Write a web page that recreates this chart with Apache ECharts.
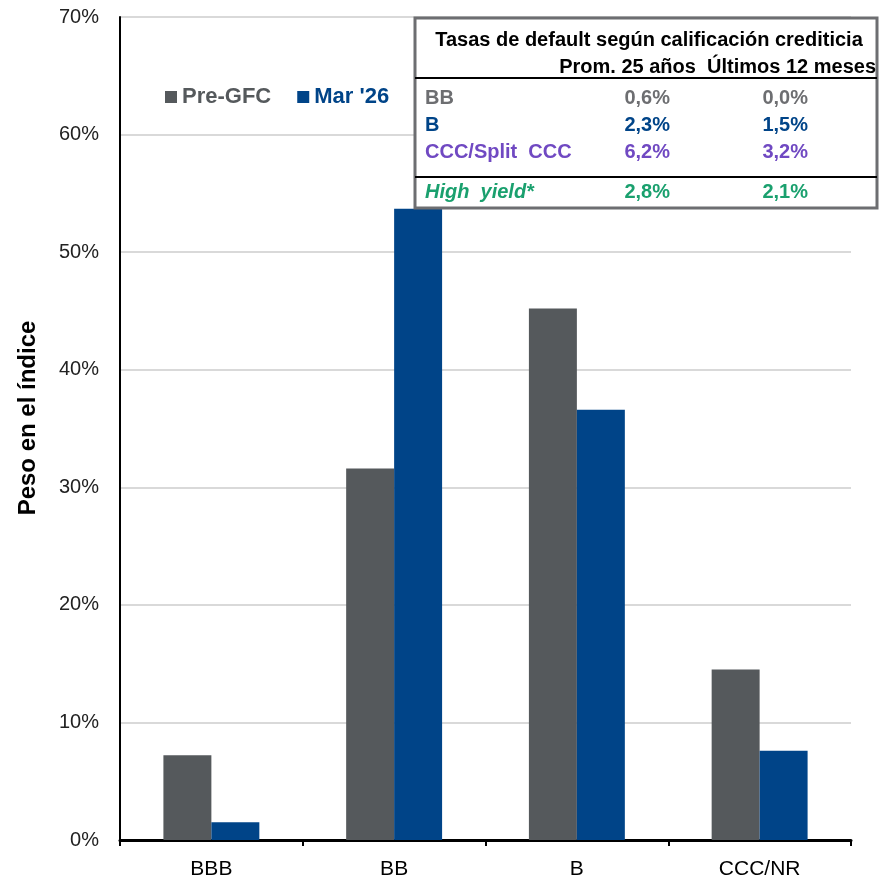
<!DOCTYPE html>
<html>
<head>
<meta charset="utf-8">
<script src="https://cdn.jsdelivr.net/npm/echarts@6/dist/echarts.min.js"></script>
<style>
  html, body { margin: 0; padding: 0; background: #fff; }
  #chart { width: 879px; height: 883px; }
</style>
</head>
<body>
<div id="chart"></div>
<script>
// Index weight by rating bucket
const categories = ['BBB', 'BB', 'B', 'CCC/NR'];
const preGfc = [7.2, 31.6, 45.2, 14.5];
const mar26 = [1.5, 53.7, 36.6, 7.6];
const yTicks = [0, 10, 20, 30, 40, 50, 60, 70];
const yAxisTitle = 'Peso en el índice';

// Default-rate table by rating
const tableTitle = 'Tasas de default según calificación crediticia';
const tableHeader = 'Prom. 25 años  Últimos 12 meses';
const rowLabels = ['BB', 'B', 'CCC/Split  CCC', 'High  yield*'];
const avg25y = ['0,6%', '2,3%', '6,2%', '2,8%'];
const last12m = ['0,0%', '1,5%', '3,2%', '2,1%'];

const FONT = '"Liberation Sans", Arial, sans-serif';
const GRAY = '#55595c';
const BLUE = '#004488';
const PURPLE = '#7049c2';
const GREEN = '#1aa06e';
const rowColors = ['#6d6e71', BLUE, PURPLE, GREEN];
const rowY = [98, 125, 152, 192];

const chart = echarts.init(document.getElementById('chart'));

const graphics = [
  // rotated y-axis title
  { type: 'text', x: 28, y: 418, rotation: Math.PI / 2,
    style: { text: yAxisTitle, fill: '#000', font: 'bold 24px ' + FONT,
      align: 'center', verticalAlign: 'middle' } },
  // table frame
  { type: 'rect', shape: { x: 415, y: 18, width: 462, height: 190 },
    style: { fill: '#fff', stroke: '#6d6e71', lineWidth: 3 }, z: 10 },
  { type: 'line', shape: { x1: 415, y1: 78, x2: 877, y2: 78 },
    style: { stroke: '#000', lineWidth: 2 }, z: 11 },
  { type: 'line', shape: { x1: 415, y1: 177, x2: 877, y2: 177 },
    style: { stroke: '#000', lineWidth: 2 }, z: 11 },
  { type: 'text', x: 649, y: 40, z: 11,
    style: { text: tableTitle, fill: '#000', font: 'bold 20px ' + FONT,
      align: 'center', verticalAlign: 'middle' } },
  { type: 'text', x: 876, y: 67, z: 11,
    style: { text: tableHeader, fill: '#000', font: 'bold 20px ' + FONT,
      align: 'right', verticalAlign: 'middle' } }
];
rowLabels.forEach((lbl, i) => {
  const italic = i === 3 ? 'italic ' : '';
  const numFont = 'bold 20px ' + FONT;
  graphics.push(
    { type: 'text', x: 425, y: rowY[i], z: 11,
      style: { text: lbl, fill: rowColors[i], font: italic + numFont, align: 'left', verticalAlign: 'middle' } },
    { type: 'text', x: 670, y: rowY[i], z: 11,
      style: { text: avg25y[i], fill: rowColors[i], font: numFont, align: 'right', verticalAlign: 'middle' } },
    { type: 'text', x: 808, y: rowY[i], z: 11,
      style: { text: last12m[i], fill: rowColors[i], font: numFont, align: 'right', verticalAlign: 'middle' } }
  );
});

chart.setOption({
  animation: false,
  grid: { left: 120, right: 28, top: 17, bottom: 43, containLabel: false },
  legend: {
    left: 160, top: 81, itemWidth: 12, itemHeight: 12, itemGap: 26,
    icon: 'rect',
    textStyle: { fontFamily: FONT, fontWeight: 'bold', fontSize: 22 },
    data: [
      { name: 'Pre-GFC', textStyle: { color: GRAY } },
      { name: "Mar '26", textStyle: { color: BLUE } }
    ]
  },
  xAxis: {
    type: 'category',
    data: categories,
    axisLine: { lineStyle: { color: '#000', width: 3 } },
    axisTick: { show: true, length: 6, lineStyle: { color: '#000', width: 2 } },
    axisLabel: { color: '#000', fontSize: 21, margin: 19, fontFamily: FONT }
  },
  yAxis: {
    type: 'value',
    min: yTicks[0], max: yTicks[yTicks.length - 1], interval: 10,
    axisLine: { show: true, lineStyle: { color: '#000', width: 2 } },
    axisTick: { show: false },
    axisLabel: { color: '#222', fontSize: 20, margin: 21, formatter: '{value}%', fontFamily: FONT },
    splitLine: { lineStyle: { color: '#d9d9d9', width: 2 } }
  },
  series: [
    { name: 'Pre-GFC', type: 'bar', data: preGfc, barGap: '0%', barCategoryGap: '47.5%',
      itemStyle: { color: GRAY } },
    { name: "Mar '26", type: 'bar', data: mar26, barGap: '0%', barCategoryGap: '47.5%',
      itemStyle: { color: BLUE } }
  ],
  graphic: graphics
});
</script>
</body>
</html>
